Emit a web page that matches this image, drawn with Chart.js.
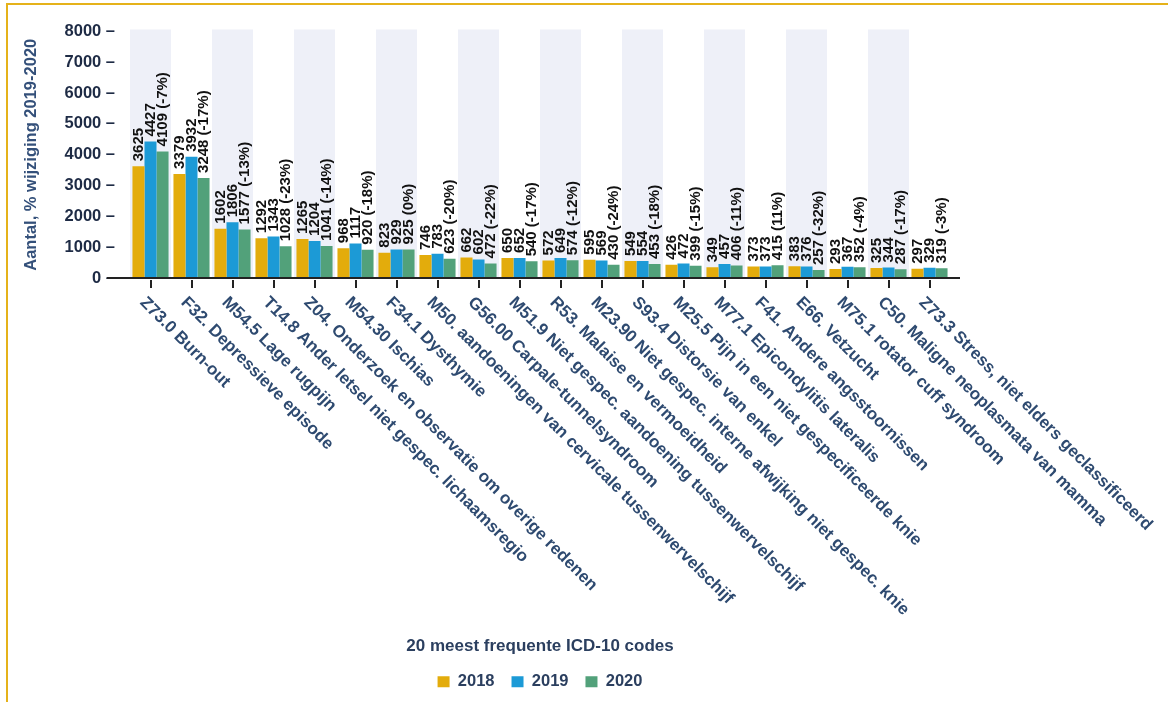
<!DOCTYPE html>
<html>
<head>
<meta charset="utf-8">
<title>20 meest frequente ICD-10 codes</title>
<script src="https://cdn.jsdelivr.net/npm/chart.js@4.4.0/dist/chart.umd.min.js"></script>
<style>
  html, body { margin: 0; padding: 0; background: #fff; overflow: hidden; }
  #frame {
    position: absolute; left: 6px; top: 3px; width: 1400px; height: 900px;
    border-top: 2px solid #e5b21a; border-left: 2px solid #e5b21a;
  }
  #wrap { position: absolute; left: 0; top: 0; width: 1168px; height: 702px; }
</style>
</head>
<body>
<div id="frame"></div>
<div id="wrap"><canvas id="chart"></canvas></div>
<script>
// ICD-10 codes, most frequent first
const codes = [
  'Z73.0 Burn-out',
  'F32. Depressieve episode',
  'M54.5 Lage rugpijn',
  'T14.8 Ander letsel niet gespec. lichaamsregio',
  'Z04. Onderzoek en observatie om overige redenen',
  'M54.30 Ischias',
  'F34.1 Dysthymie',
  'M50. aandoeningen van cervicale tussenwervelschijf',
  'G56.00 Carpale-tunnelsyndroom',
  'M51.9 Niet gespec. aandoening tussenwervelschijf',
  'R53. Malaise en vermoeidheid',
  'M23.90 Niet gespec. interne afwijking niet gespec. knie',
  'S93.4 Distorsie van enkel',
  'M25.5 Pijn in een niet gespecificeerde knie',
  'M77.1 Epicondylitis lateralis',
  'F41. Andere angsstoornissen',
  'E66. Vetzucht',
  'M75.1 rotator cuff syndroom',
  'C50. Maligne neoplasmata van mamma',
  'Z73.3 Stress, niet elders geclassificeerd'
];

const years = ['2018', '2019', '2020'];

const counts2018 = [3625, 3379, 1602, 1292, 1265, 968, 823, 746, 662, 650, 572, 595, 549, 426, 349, 373, 383, 293, 325, 297];
const counts2019 = [4427, 3932, 1806, 1343, 1204, 1117, 929, 783, 602, 652, 649, 569, 554, 472, 457, 373, 376, 367, 344, 329];
const counts2020 = [4109, 3248, 1577, 1028, 1041, 920, 925, 623, 472, 540, 574, 430, 453, 399, 406, 415, 257, 352, 287, 319];

// change 2019 -> 2020, shown after the 2020 value
const change1920 = ['-7%', '-17%', '-13%', '-23%', '-14%', '-18%', '0%', '-20%', '-22%', '-17%',
                    '-12%', '-24%', '-18%', '-15%', '-11%', '11%', '-32%', '-4%', '-17%', '-3%'];

const yMax = 8000;
const yStep = 1000;

const barColors = ['#e3ac0c', '#1c9ad6', '#52a17a'];
const bandColor = '#eef0f8';
const navy = '#2e4a70';
const FONT = '"Liberation Sans", Arial, Helvetica, sans-serif';

// light columns behind every other category
const bandsPlugin = {
  id: 'bands',
  beforeDatasetsDraw(chart) {
    const {ctx, scales: {x, y}} = chart;
    const w = x.getPixelForValue(1) - x.getPixelForValue(0);
    const top = y.getPixelForValue(yMax);
    const bottom = y.getPixelForValue(0);
    ctx.save();
    ctx.fillStyle = bandColor;
    codes.forEach((c, i) => {
      if (i % 2 === 0) {
        const cx = x.getPixelForValue(i);
        ctx.fillRect(cx - w / 2, top - 2, w, bottom - top + 2);
      }
    });
    ctx.restore();
  }
};

// baseline, tick marks, slanted category names and value labels
const decorPlugin = {
  id: 'decor',
  afterDatasetsDraw(chart) {
    const {ctx, scales: {x, y}} = chart;
    const y0 = y.getPixelForValue(0);
    ctx.save();

    ctx.strokeStyle = '#222';
    ctx.lineWidth = 2;
    ctx.beginPath();
    ctx.moveTo(107, y0);
    ctx.lineTo(960, y0);
    ctx.stroke();

    ctx.lineWidth = 2;
    codes.forEach((c, i) => {
      const cx = Math.round(x.getPixelForValue(i));
      ctx.beginPath();
      ctx.moveTo(cx, y0 + 2);
      ctx.lineTo(cx, y0 + 10);
      ctx.stroke();
    });

    ctx.fillStyle = navy;
    ctx.font = 'bold 17px ' + FONT;
    ctx.textAlign = 'left';
    ctx.textBaseline = 'middle';
    codes.forEach((c, i) => {
      const cx = x.getPixelForValue(i);
      ctx.save();
      ctx.translate(cx - 8, y0 + 22);
      ctx.rotate(Math.PI / 4);
      ctx.fillText(c, 0, 0);
      ctx.restore();
    });

    ctx.fillStyle = '#111';
    ctx.font = 'bold 15px ' + FONT;
    chart.data.datasets.forEach((ds, d) => {
      const meta = chart.getDatasetMeta(d);
      meta.data.forEach((bar, i) => {
        let txt = String(ds.data[i]);
        if (d === 2) txt += ' (' + change1920[i] + ')';
        ctx.save();
        ctx.translate(bar.x, bar.y - 5);
        ctx.rotate(-Math.PI / 2);
        ctx.fillText(txt, 0, 0);
        ctx.restore();
      });
    });

    ctx.restore();
  }
};

new Chart(document.getElementById('chart'), {
  type: 'bar',
  data: {
    labels: codes,
    datasets: [
      { label: years[0], data: counts2018, backgroundColor: barColors[0] },
      { label: years[1], data: counts2019, backgroundColor: barColors[1] },
      { label: years[2], data: counts2020, backgroundColor: barColors[2] }
    ]
  },
  options: {
    responsive: true,
    maintainAspectRatio: false,
    animation: false,
    layout: { padding: { left: 0, right: 218, top: 31.5, bottom: 2 } },
    datasets: {
      bar: { categoryPercentage: 0.88, barPercentage: 1.0, borderWidth: 0 }
    },
    scales: {
      x: {
        grid: { display: false },
        border: { display: false },
        ticks: { display: false },
        title: {
          display: true,
          text: '20 meest frequente ICD-10 codes',
          color: '#2b3f5f',
          font: { family: FONT, size: 17, weight: 'bold' },
          padding: { top: 0, bottom: 0 }
        },
        afterFit(scale) { scale.height = 378.5; }
      },
      y: {
        min: 0,
        max: yMax,
        grid: { display: false, drawTicks: false },
        border: { display: false },
        ticks: {
          stepSize: yStep,
          padding: 15,
          color: '#1e2b45',
          font: { family: FONT, size: 16.5, weight: 'bold' },
          callback: v => v + ' \u2013'
        },
        title: {
          display: true,
          text: 'Aantal, % wijziging 2019-2020',
          color: '#34507a',
          font: { family: FONT, size: 16.5, weight: 'bold' },
          padding: { top: 22, bottom: 0 }
        },
        afterFit(scale) { scale.width = 130; }
      }
    },
    plugins: {
      legend: {
        position: 'bottom',
        fullSize: false,
        labels: {
          boxWidth: 12,
          boxHeight: 11,
          padding: 17,
          color: '#2b3f5f',
          font: { family: FONT, size: 16.5, weight: 'bold' }
        }
      },
      tooltip: { enabled: false }
    }
  },
  plugins: [bandsPlugin, decorPlugin]
});
</script>
</body>
</html>
